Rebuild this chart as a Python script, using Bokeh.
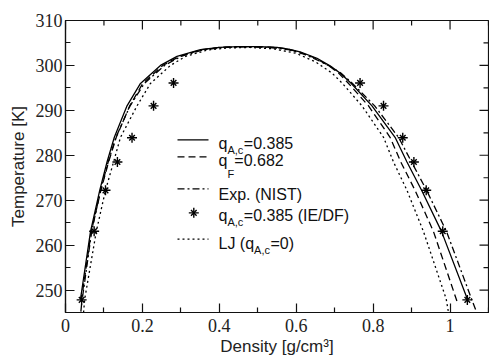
from bokeh.plotting import figure
from bokeh.models import FixedTicker, CustomJSTickFormatter, Label
from bokeh.embed import file_html
from bokeh.resources import INLINE

# ---------------- data ----------------
solid_rho = [0.039, 0.065, 0.089, 0.108, 0.127, 0.160, 0.195, 0.247, 0.290, 0.351, 0.400, 0.450, 0.500,
             0.550, 0.580, 0.610, 0.654, 0.688, 0.714, 0.742, 0.797, 0.857, 0.888, 0.926, 0.978, 1.045]
solid_T = [248.0, 263.0, 272.2, 278.5, 284.0, 291.0, 296.0, 300.0, 302.0, 303.5, 304.0, 304.2, 304.2,
           304.0, 303.6, 303.0, 301.6, 299.9, 298.3, 296.1, 291.0, 284.0, 278.5, 272.2, 263.0, 248.0]

dash_rho = [0.041, 0.067, 0.092, 0.112, 0.132, 0.167, 0.201, 0.253, 0.296, 0.355, 0.400, 0.450, 0.500,
            0.550, 0.580, 0.610, 0.650, 0.685, 0.710, 0.735, 0.788, 0.844, 0.872, 0.909, 0.957, 1.018]
dash_T = [247.5, 263.0, 272.2, 278.5, 284.0, 291.0, 296.0, 300.0, 302.0, 303.5, 304.0, 304.2, 304.2,
          304.0, 303.6, 302.9, 301.6, 299.9, 298.3, 296.1, 291.0, 284.0, 278.5, 272.2, 263.0, 247.5]

exp_rho = [0.040, 0.042, 0.068, 0.091, 0.111, 0.131, 0.168, 0.205, 0.258, 0.300, 0.360, 0.410, 0.468,
           0.530, 0.580, 0.620, 0.660, 0.690, 0.716, 0.745, 0.804, 0.866, 0.900, 0.939, 0.991, 1.056, 1.068]
exp_T = [245.2, 247.0, 263.0, 272.2, 278.5, 284.0, 291.0, 296.0, 300.0, 302.0, 303.5, 304.0, 304.13,
         304.0, 303.5, 302.5, 301.0, 299.7, 298.3, 296.1, 291.0, 284.0, 278.5, 272.2, 263.0, 248.0, 245.3]

lj_rho = [0.047, 0.050, 0.080, 0.104, 0.125, 0.143, 0.186, 0.221, 0.273, 0.312, 0.368, 0.420, 0.480,
          0.540, 0.600, 0.650, 0.693, 0.719, 0.771, 0.827, 0.853, 0.888, 0.931, 0.990, 0.996]
lj_T = [245.0, 248.0, 263.0, 272.2, 278.5, 284.0, 291.0, 296.0, 300.0, 302.0, 303.4, 303.9, 304.0,
        303.7, 302.7, 300.8, 298.3, 296.1, 291.0, 284.0, 278.5, 272.2, 263.0, 248.0, 245.0]

star_rho = [0.042, 0.0745, 0.104, 0.135, 0.173, 0.229, 0.281, 0.766, 0.827, 0.877, 0.906, 0.938, 0.981, 1.045]
star_T = [247.8, 263.1, 272.2, 278.5, 283.9, 291.0, 296.1, 296.1, 291.0, 283.9, 278.5, 272.2, 263.1, 247.8]

x_ticks = [0, 0.2, 0.4, 0.6, 0.8, 1.0]
x_minor = [0.1, 0.3, 0.5, 0.7, 0.9, 1.1]
y_ticks = [250, 260, 270, 280, 290, 300, 310]
y_minor = [245, 255, 265, 275, 285, 295, 305]

X0, X1 = 0.0, 1.1
Y0, Y1 = 245.0, 310.0

# ---------------- layout (canvas pixels; the canvas sits at the page origin) ----------------
FL, FT, FW, FH = 65, 20, 423, 296
CW, CH = 489, 358

DASHED = "7 4"
DASHDOT = "7 3 2 3"
DOTTED = "2 3"
MAJ, MIN = 9, 5


def dx(px):
    return X0 + (px - FL) / FW * (X1 - X0)


def dy(py):
    return Y1 - (py - FT) / FH * (Y1 - Y0)


XPX = (X1 - X0) / FW
YPX = (Y1 - Y0) / FH

p = figure(width=CW, height=CH, x_range=(X0, X1), y_range=(Y0, Y1),
           output_backend="svg", toolbar_location=None,
           min_border_left=FL, min_border_top=FT,
           min_border_right=CW - FL - FW, min_border_bottom=CH - FT - FH)
p.grid.visible = False
p.outline_line_color = "#111111"
p.outline_line_width = 1.2
p.background_fill_color = "white"
p.border_fill_color = "white"

fmt_x = CustomJSTickFormatter(code="""
if (Math.abs(tick) < 1e-9) return "0";
if (Math.abs(tick - 1) < 1e-9) return "1";
return tick.toFixed(1);
""")

TICK_FONT = "Liberation Serif"
LAB_FONT = "Liberation Sans"

for ax, ticks, minor in ((p.xaxis[0], x_ticks, x_minor), (p.yaxis[0], y_ticks, y_minor)):
    ax.ticker = FixedTicker(ticks=ticks, minor_ticks=minor)
    ax.major_tick_in = MAJ
    ax.major_tick_out = 0
    ax.minor_tick_in = MIN
    ax.minor_tick_out = 0
    ax.axis_line_color = "#111111"
    ax.axis_line_width = 1.2
    ax.major_tick_line_color = "#111111"
    ax.minor_tick_line_color = "#111111"
    ax.major_tick_line_width = 1.2
    ax.minor_tick_line_width = 1.2
    ax.major_label_text_font = TICK_FONT
    ax.major_label_text_font_size = "18px"
    ax.major_label_text_color = "#222222"
    ax.axis_label_text_font = LAB_FONT
    ax.axis_label_text_font_size = "17px"
    ax.axis_label_text_font_style = "normal"
    ax.axis_label_text_color = "#222222"

p.xaxis[0].formatter = fmt_x
p.xaxis[0].axis_label = "Density [g/cm³]"
p.xaxis[0].major_label_standoff = 6
p.xaxis[0].axis_label_standoff = 2
p.yaxis[0].axis_label = "Temperature [K]"
p.yaxis[0].major_label_standoff = 3
p.yaxis[0].axis_label_standoff = 5

# mirrored ticks on top and right (inward), drawn from the tick lists
tk = dict(line_color="#111111", line_width=1.2)
p.segment(x0=x_ticks, y0=[Y1] * len(x_ticks), x1=x_ticks, y1=[Y1 - MAJ * YPX] * len(x_ticks), **tk)
p.segment(x0=x_minor, y0=[Y1] * len(x_minor), x1=x_minor, y1=[Y1 - MIN * YPX] * len(x_minor), **tk)
p.segment(x0=[X1] * len(y_ticks), y0=y_ticks, x1=[X1 - MAJ * XPX] * len(y_ticks), y1=y_ticks, **tk)
p.segment(x0=[X1] * len(y_minor), y0=y_minor, x1=[X1 - MIN * XPX] * len(y_minor), y1=y_minor, **tk)

LW = 1.3
p.line(solid_rho, solid_T, line_color="black", line_width=LW)
p.line(dash_rho, dash_T, line_color="black", line_width=LW, line_dash=DASHED)
p.line(exp_rho, exp_T, line_color="black", line_width=LW, line_dash=DASHDOT)
p.line(lj_rho, lj_T, line_color="black", line_width=LW, line_dash=DOTTED)
p.scatter(star_rho, star_T, marker="cross", size=10, line_color="black", line_width=1.4)
p.scatter(star_rho, star_T, marker="x", size=8, line_color="black", line_width=1.4)

# ---------------- legend (drawn by hand, for the subscripts) ----------------
SX0, SX1 = 177, 208
TX = 218
FS, SFS = "16px", "11px"
W_q = 8.9
W_Ac = 16.4
W_F = 6.9
W_LJq = 35.6


def txt(px, py, s, size=FS):
    p.add_layout(Label(x=dx(px), y=dy(py), text=s, text_font=LAB_FONT, text_font_size=size,
                       text_color="#111111", text_baseline="alphabetic", text_align="left"))


rows = [141.0, 158.3, 190.7, 215.0, 241.7]
bases = [145.0, 161.7, 196.7, 217.5, 246.0]
subs = [151.5, 175.5, None, 224.0, 252.5]
dashes = ["solid", DASHED, DASHDOT, None, DOTTED]
for ry, dsh in zip(rows, dashes):
    if dsh is None:
        continue
    p.line([dx(SX0), dx(SX1)], [dy(ry), dy(ry)], line_color="black", line_width=LW, line_dash=dsh)
p.scatter([dx(193.3)], [dy(rows[3])], marker="cross", size=10, line_color="black", line_width=1.4)
p.scatter([dx(193.3)], [dy(rows[3])], marker="x", size=8, line_color="black", line_width=1.4)

# row 1: q_{A,c}=0.385
txt(TX, bases[0], "q")
txt(TX + W_q, subs[0], "A,c", SFS)
txt(TX + W_q + W_Ac, bases[0], "=0.385")
# row 2: q_F=0.682
txt(TX, bases[1], "q")
txt(TX + W_q, subs[1], "F", SFS)
txt(TX + W_q + W_F, bases[1], "=0.682")
# row 3
txt(TX, bases[2], "Exp. (NIST)")
# row 4
txt(TX, bases[3], "q")
txt(TX + W_q, subs[3], "A,c", SFS)
txt(TX + W_q + W_Ac, bases[3], "=0.385 (IE/DF)")
# row 5
txt(TX, bases[4], "LJ (q")
txt(TX + W_LJq, subs[4], "A,c", SFS)
txt(TX + W_LJq + W_Ac, bases[4], "=0)")

open("out.html", "w").write(file_html(p, INLINE))
